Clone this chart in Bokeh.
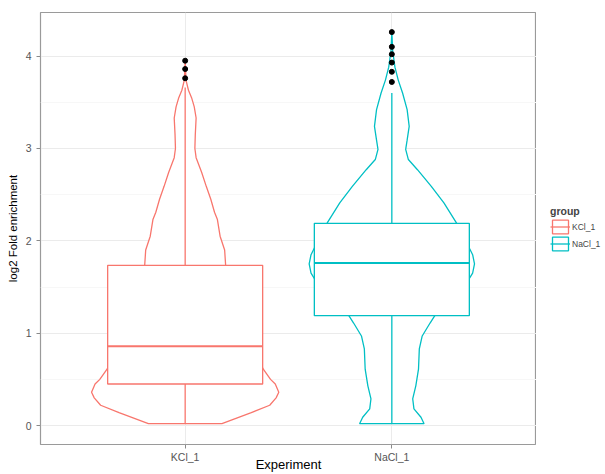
from bokeh.plotting import figure
from bokeh.layouts import row
from bokeh.models import FactorRange, Range1d, FixedTicker, Legend, LegendItem
from bokeh.embed import file_html
from bokeh.resources import INLINE

# groups and their colours
groups = ["KCl_1", "NaCl_1"]
colors = ["#F8766D", "#00BFC4"]

# boxplot summaries (log2 fold enrichment)
lower_whisker = [0.02, 0.02]
q1 = [0.45, 1.19]
median = [0.86, 1.76]
q3 = [1.735, 2.19]
upper_whisker = [3.66, 3.60]
kcl_outliers = [3.76, 3.86, 3.95]
nacl_outliers = [3.72, 3.83, 3.93, 4.02, 4.10, 4.26]

# violin outlines: level and half-width (category units)
kcl_levels = [0.02, 0.07, 0.14, 0.22, 0.30, 0.36, 0.45, 0.50, 0.61, 0.80, 1.00,
              1.20, 1.50, 1.73, 1.90, 2.05, 2.23, 2.31, 2.45, 2.59, 2.74, 2.90,
              3.00, 3.15, 3.33, 3.45, 3.55, 3.63, 3.74, 3.95]
kcl_halfwidth = [0.178, 0.236, 0.320, 0.409, 0.440, 0.453, 0.436, 0.413, 0.378,
                 0.338, 0.298, 0.262, 0.222, 0.196, 0.191, 0.169, 0.156, 0.142,
                 0.124, 0.102, 0.080, 0.053, 0.047, 0.049, 0.053, 0.044, 0.031,
                 0.016, 0.004, 0.0]
nacl_levels = [0.02, 0.09, 0.18, 0.29, 0.43, 0.61, 0.83, 0.97, 1.11, 1.19, 1.30,
               1.45, 1.585, 1.65, 1.75, 1.85, 1.93, 2.05, 2.20, 2.41, 2.59, 2.77,
               2.88, 2.99, 3.09, 3.24, 3.42, 3.60, 3.74, 3.88, 4.06, 4.26]
nacl_halfwidth = [0.156, 0.141, 0.107, 0.101, 0.116, 0.129, 0.133, 0.147, 0.185,
                  0.208, 0.276, 0.338, 0.373, 0.391, 0.400, 0.391, 0.373, 0.347,
                  0.311, 0.252, 0.191, 0.124, 0.080, 0.067, 0.074, 0.084, 0.074,
                  0.052, 0.031, 0.015, 0.004, 0.0]

y_ticks = [0, 1, 2, 3, 4]
y_minor = [0.5, 1.5, 2.5, 3.5]

FONT = "Liberation Sans"
BOX_W = 0.75
LINE_W = 1.3

p = figure(width=536, height=474,
           x_range=FactorRange(factors=groups, range_padding=0.2,
                               range_padding_units="absolute"),
           y_range=Range1d(-0.205, 4.472),
           output_backend="svg", toolbar_location=None,
           min_border_left=40, min_border_right=0,
           min_border_top=12, min_border_bottom=28)

p.background_fill_color = "white"
p.border_fill_color = "white"
p.outline_line_color = "#9A9A9A"
p.outline_line_width = 1.2

# grid
p.xgrid.grid_line_color = "#EBEBEB"
p.ygrid.grid_line_color = "#EBEBEB"
p.ygrid.minor_grid_line_color = "#F7F7F7"
p.yaxis.ticker = FixedTicker(ticks=y_ticks, minor_ticks=y_minor)

# axes
for ax in (p.xaxis[0], p.yaxis[0]):
    ax.axis_line_color = None
    ax.major_tick_line_color = "#8A8A8A"
    ax.major_tick_out = 4
    ax.major_tick_in = 0
    ax.minor_tick_out = 0
    ax.minor_tick_in = 0
    ax.major_label_text_font = FONT
    ax.major_label_text_color = "#555555"
    ax.axis_label_text_font = FONT
    ax.axis_label_text_font_style = "normal"
    ax.axis_label_text_color = "#000000"

p.xaxis.major_label_text_font_size = "10.5px"
p.yaxis.major_label_text_font_size = "10.5px"
p.xaxis.axis_label = "Experiment"
p.yaxis.axis_label = "log2 Fold enrichment"
p.xaxis.axis_label_text_font_size = "13px"
p.yaxis.axis_label_text_font_size = "11.5px"
p.xaxis.major_label_standoff = 2
p.xaxis.axis_label_standoff = -9
p.yaxis.major_label_standoff = 5
p.yaxis.axis_label_standoff = 4

outliers = [kcl_outliers, nacl_outliers]
levels = [kcl_levels, nacl_levels]
widths = [kcl_halfwidth, nacl_halfwidth]

for i, g in enumerate(groups):
    c = colors[i]
    # violin outline (white fill)
    xs = [(g, w) for w in widths[i]] + [(g, -w) for w in reversed(widths[i])]
    ys = list(levels[i]) + list(reversed(levels[i]))
    p.patch(x=xs, y=ys, fill_color="white", line_color=c, line_width=LINE_W)

    # whiskers
    p.segment(x0=[g, g], y0=[lower_whisker[i], q3[i]],
              x1=[g, g], y1=[q1[i], upper_whisker[i]],
              line_color=c, line_width=LINE_W)
    # box
    p.vbar(x=[g], width=BOX_W, bottom=[q1[i]], top=[q3[i]],
           fill_color="white", line_color=c, line_width=LINE_W)
    # median
    p.segment(x0=[(g, -BOX_W / 2)], y0=[median[i]],
              x1=[(g, BOX_W / 2)], y1=[median[i]],
              line_color=c, line_width=2.0)
    # outliers
    p.scatter(x=[g] * len(outliers[i]), y=outliers[i], size=5,
              color="black")

# separate strip on the right that holds the legend
leg = figure(width=69, height=474, x_range=Range1d(0, 1), y_range=Range1d(0, 1),
             output_backend="svg", toolbar_location=None,
             min_border=0, min_border_left=0, min_border_right=0,
             min_border_top=0, min_border_bottom=0)
leg.axis.visible = False
leg.grid.visible = False
leg.outline_line_color = None
leg.background_fill_color = "white"
leg.border_fill_color = "white"

legend_items = []
for i, g in enumerate(groups):
    c = colors[i]
    # key glyphs only; their data sits outside the visible range
    kr = leg.patch(x=[5, 6, 6], y=[5, 5, 6], fill_color="white",
                   line_color=c, line_width=LINE_W)
    km = leg.segment(x0=[5], y0=[5], x1=[6], y1=[5], line_color=c,
                     line_width=LINE_W)
    legend_items.append(LegendItem(label=g, renderers=[kr, km]))

legend = Legend(items=legend_items, title="group", location=(14, 192),
                glyph_width=20, glyph_height=17, label_height=17,
                label_standoff=2, spacing=0, padding=0, margin=0,
                border_line_color=None, background_fill_alpha=0,
                title_text_font=FONT, title_text_font_size="10.5px",
                title_text_font_style="bold", title_standoff=1,
                label_text_font=FONT, label_text_font_size="8.5px")
leg.add_layout(legend, "center")

layout = row(p, leg, spacing=0)
open("out.html", "w").write(file_html(layout, INLINE))
